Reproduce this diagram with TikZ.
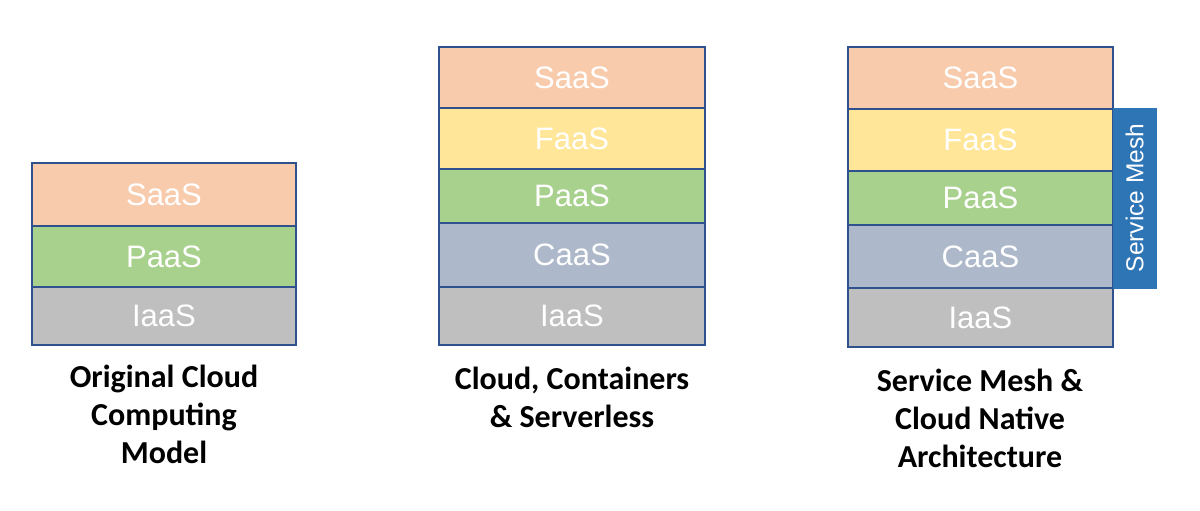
\documentclass[tikz,border=0pt]{standalone}
\usepackage{fontspec}
\setmainfont{Carlito}
\newfontfamily\labelfont{Liberation Sans}
\definecolor{saas}{HTML}{F8CBAD}
\definecolor{faas}{HTML}{FFE699}
\definecolor{paas}{HTML}{A9D18E}
\definecolor{caas}{HTML}{ADB9CA}
\definecolor{iaas}{HTML}{BFBFBF}
\definecolor{bordc}{HTML}{2F528F}
\definecolor{meshc}{HTML}{2E75B6}
\begin{document}
\begin{tikzpicture}[x=1pt,y=-1pt,
  layer/.style={draw=bordc, line width=1.2pt, inner sep=0pt, outer sep=0pt, text=white,
    font=\labelfont\fontsize{31}{31}\selectfont, anchor=north west},
  titletext/.style={align=center, font=\bfseries\fontsize{32}{38}\selectfont, text=black}]
\useasboundingbox (0,0) rectangle (1200,511);
% stack 1
\node[layer, fill=saas, minimum width=264pt, minimum height=63pt] (s1) at (32,163) {SaaS};
\node[layer, fill=paas, minimum width=264pt, minimum height=61pt] (p1) at (32,226) {PaaS};
\node[layer, fill=iaas, minimum width=264pt, minimum height=58pt] (i1) at (32,287) {IaaS};
\node[titletext] (t1) at (164,414) {Original Cloud\\Computing\\Model};
% stack 2
\node[layer, fill=saas, minimum width=266pt, minimum height=61pt] (s2) at (439,47) {SaaS};
\node[layer, fill=faas, minimum width=266pt, minimum height=61pt] (f2) at (439,108) {FaaS};
\node[layer, fill=paas, minimum width=266pt, minimum height=54pt] (p2) at (439,169) {PaaS};
\node[layer, fill=caas, minimum width=266pt, minimum height=64pt] (c2) at (439,223) {CaaS};
\node[layer, fill=iaas, minimum width=266pt, minimum height=58pt] (i2) at (439,287) {IaaS};
\node[titletext] (t2) at (572,397) {Cloud, Containers\\\& Serverless};
% stack 3
\node[layer, fill=saas, minimum width=265pt, minimum height=62pt] (s3) at (848,47) {SaaS};
\node[layer, fill=faas, minimum width=265pt, minimum height=62pt] (f3) at (848,109) {FaaS};
\node[layer, fill=paas, minimum width=265pt, minimum height=54pt] (p3) at (848,171) {PaaS};
\node[layer, fill=caas, minimum width=265pt, minimum height=63pt] (c3) at (848,225) {CaaS};
\node[layer, fill=iaas, minimum width=265pt, minimum height=59pt] (i3) at (848,288) {IaaS};
\node[draw=meshc, fill=meshc, line width=1pt, inner sep=0pt, outer sep=0pt, anchor=north west,
  minimum width=43pt, minimum height=180pt] (m3) at (1113,108) {};
\node[rotate=90, text=white, font=\labelfont\fontsize{24.5}{24.5}\selectfont] (ml) at (m3.center) {Service Mesh};
\node[titletext] (t3) at (980,418) {Service Mesh \&\\Cloud Native\\Architecture};
\end{tikzpicture}
\end{document}
